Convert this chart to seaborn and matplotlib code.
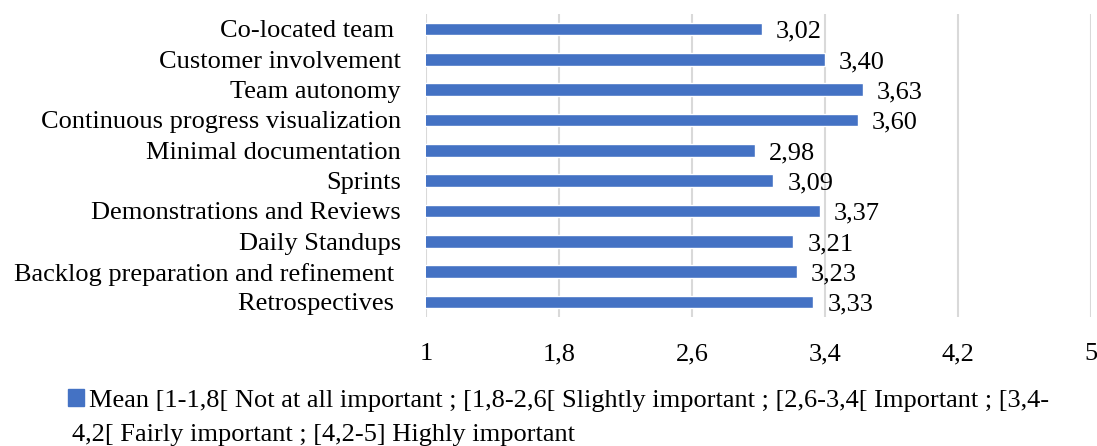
import matplotlib
matplotlib.use("Agg")
import matplotlib.pyplot as plt
import seaborn as sns
import pandas as pd
from matplotlib.patches import Patch

practices = [
    "Co-located team ",
    "Customer involvement",
    "Team autonomy",
    "Continuous progress visualization",
    "Minimal documentation",
    "Sprints",
    "Demonstrations and Reviews",
    "Daily Standups",
    "Backlog preparation and refinement ",
    "Retrospectives ",
]
means = [3.02, 3.40, 3.63, 3.60, 2.98, 3.09, 3.37, 3.21, 3.23, 3.33]
x_ticks = [1, 1.8, 2.6, 3.4, 4.2, 5]
x_tick_labels = ["1", "1,8", "2,6", "3,4", "4,2", "5"]
legend_line1 = "Mean [1-1,8[ Not at all important ; [1,8-2,6[ Slightly important ; [2,6-3,4[ Important ; [3,4-"
legend_line2 = "4,2[ Fairly important ; [4,2-5] Highly important"

bar_color = "#4472C4"
fs = 19

sns.set_theme(style="white")
plt.rcParams["font.family"] = ["Liberation Serif", "DejaVu Serif"]
plt.rcParams["text.color"] = "black"
plt.rcParams["xtick.color"] = "black"
plt.rcParams["ytick.color"] = "black"

df = pd.DataFrame({"practice": practices, "mean": means})

fig = plt.figure(figsize=(10.97, 4.46), dpi=100)
ax = fig.add_axes([0.3883, 0.289, 0.6062, 0.680])

sns.barplot(data=df, x="mean", y="practice", color=bar_color, width=0.42,
            saturation=1, ax=ax, orient="h")

ax.set_xlim(1, 5)
ax.set_xticks(x_ticks)
ax.set_xticklabels(x_tick_labels, fontsize=fs)
ax.tick_params(axis="y", labelsize=fs, length=0, pad=18)
ax.tick_params(axis="x", length=0, pad=19)
ax.set_xlabel("")
ax.set_ylabel("")
for s in ax.spines.values():
    s.set_visible(False)
ax.xaxis.grid(True, color="#d9d9d9", linewidth=1.5)
ax.set_axisbelow(True)

for i, v in enumerate(means):
    ax.annotate(f"{v:.2f}".replace(".", ","), xy=(v, i), xytext=(10, -2),
                textcoords="offset points", va="center", ha="left",
                fontsize=fs, color="black")

handle = Patch(facecolor=bar_color, edgecolor=bar_color)
fig.legend([handle], [legend_line1], loc="upper left",
           bbox_to_anchor=(0.062, 0.128), frameon=False, fontsize=fs,
           handlelength=0.6, handleheight=0.6, handletextpad=0.2,
           borderpad=0, borderaxespad=0)
fig.text(0.0655, 0.0, legend_line2, fontsize=fs, ha="left", va="bottom")

fig.savefig("out.png", dpi=100)
